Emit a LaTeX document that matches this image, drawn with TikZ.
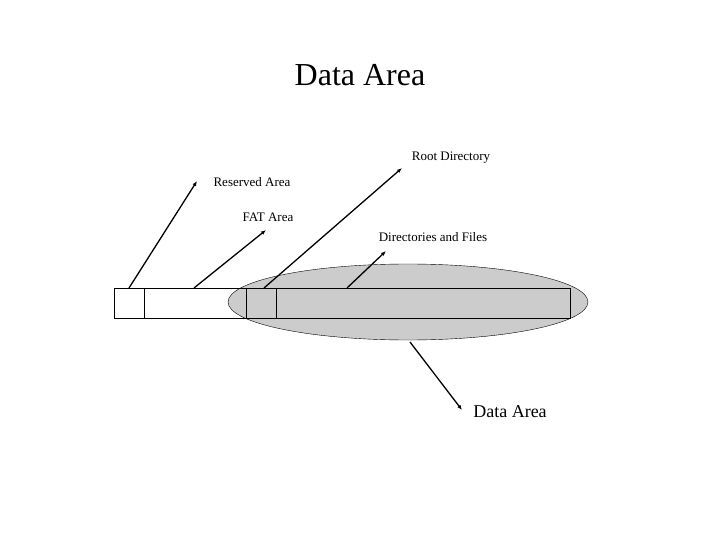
\documentclass[tikz,border=0pt]{standalone}
\usepackage{fontspec}
\setmainfont{Liberation Serif}
\usetikzlibrary{arrows.meta}

\begin{document}
\begin{tikzpicture}[x=1pt,y=-1pt,
  lbl/.style={inner sep=0pt,font=\fontsize{13}{15}\selectfont},
  ptr/.style={line width=1.3pt,-{Latex[length=5pt,width=4pt]}}]
        \useasboundingbox (0,0) rectangle (720,540);
        \node (title) at (360,75) {\fontsize{32}{36}\selectfont Data Area};
        % data area cloud
        \path [draw=black, fill=black!20] (408,302) ellipse (180pt and 38pt);
        % the disk layout
        \draw (114,288) rectangle (570,318);
        \foreach \x in {144, 246, 276}
        \draw (\x,288) -- (\x,318);
        % labels
        \node[lbl] (root) at (451,158) {Root Directory};
        \node[lbl] (res) at (252,182) {Reserved Area};
        \node[lbl] (fat) at (268,217) {FAT Area};
        \node[lbl] (dirs) at (433,237) {Directories and Files};
        \node[inner sep=0pt,font=\fontsize{18}{20}\selectfont] (data) at (510,412) {Data Area};
        \coordinate (resTip) at (197,181);
        \coordinate (fatTip) at (266,230);
        \coordinate (rootTip) at (402,168);
        \coordinate (dirsTip) at (386,251);
        \coordinate (dataTip) at (462,410);
        \coordinate (resFoot) at (129,288);
        \coordinate (fatFoot) at (194,288);
        \coordinate (rootFoot) at (264,288);
        \coordinate (dirsFoot) at (347,288);
        \coordinate (dataFoot) at (410,342);
        \foreach \p in {res, fat, root, dirs, data}
        \draw[ptr] (\p Foot) -- (\p Tip);
\end{tikzpicture}
\end{document}
